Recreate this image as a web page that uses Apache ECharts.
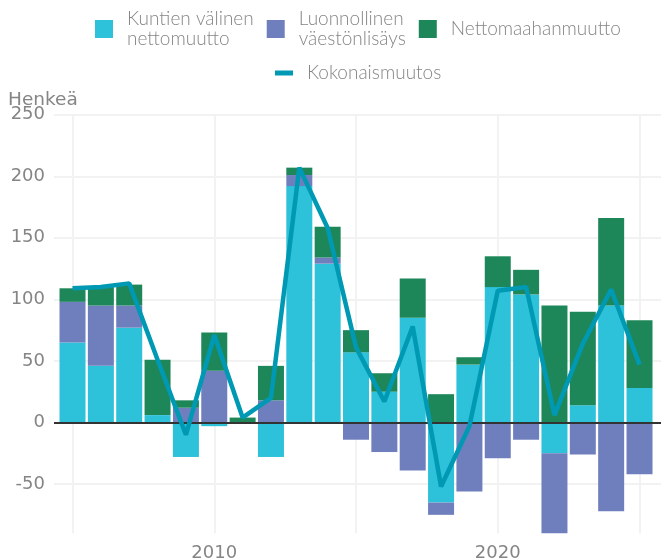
<!DOCTYPE html>
<html>
<head>
<meta charset="utf-8">
<title>Väestönmuutos</title>
<script src="https://cdn.jsdelivr.net/npm/echarts@6/dist/echarts.min.js"></script>
<style>
  html, body { margin: 0; padding: 0; background: #fff; }
  #main { width: 661px; height: 559px; }
</style>
</head>
<body>
<div id="main"></div>
<script>
//vuodet
var years = [2005, 2006, 2007, 2008, 2009, 2010, 2011, 2012, 2013, 2014, 2015,
  2016, 2017, 2018, 2019, 2020, 2021, 2022, 2023, 2024, 2025];

//pinotut pylväät
var kuntienValinen = [65, 46, 77, 6, -28, -3, 0, -28, 192, 129, 57,
  25, 85, -65, 47, 110, 104, -25, 14, 95, 28];
var luonnollinen = [33, 49, 18, 0, 12, 42, 0, 18, 9, 5, -14,
  -24, -39, -10, -56, -29, -14, -65, -26, -72, -42];
var nettomaahanmuutto = [11, 15, 17, 45, 6, 31, 4, 28, 6, 25, 18,
  15, 32, 23, 6, 25, 20, 95, 76, 71, 55];

//viiva
var kokonaismuutos = [109, 110, 113, 51, -10, 71, 4, 20, 207, 158, 61,
  17, 78, -52, -3, 107, 110, 6, 64, 108, 47];

//akselin tekstit
var xLabels = [2010, 2020];

var legendLabels = {
  'Kuntien välinen nettomuutto': 'Kuntien välinen\nnettomuutto',
  'Luonnollinen väestönlisäys': 'Luonnollinen\nväestönlisäys',
  'Nettomaahanmuutto': 'Nettomaahanmuutto',
  'Kokonaismuutos': 'Kokonaismuutos'
};

var grayText = '#858585';
var gridColor = '#f2f2f2';
var clear = 'rgba(0,0,0,0)';

//arvo + vuosi pareiksi (arvo ensin, jotta pinoaminen osuu y-arvoon)
function pairs(values) {
  return years.map(function (y, i) { return [values[i], y]; });
}

function legendText() {
  return {
    fontFamily: 'Lato',
    fontWeight: 300,
    fontSize: 19,
    lineHeight: 20,
    color: grayText,
    padding: [0, 0, 0, 9]
  };
}

function renderChart() {
  var container = document.getElementById('main');
  var myChart = echarts.init(container);
  var axisFont = { fontFamily: 'DejaVu Sans', fontSize: 18, color: grayText };

  var options = {
    backgroundColor: '#fff',
    animation: false,
    title: {
      text: 'Henkeä',
      left: 8,
      top: 91,
      padding: 0,
      textStyle: { fontFamily: 'DejaVu Sans', fontSize: 18.5, fontWeight: 'normal', color: grayText }
    },
    legend: [{
      left: 95,
      top: 9,
      padding: 0,
      itemWidth: 18,
      itemHeight: 18,
      itemGap: 13,
      selectedMode: false,
      data: [
        { name: 'Kuntien välinen nettomuutto', icon: 'rect' },
        { name: 'Luonnollinen väestönlisäys', icon: 'rect' },
        { name: 'Nettomaahanmuutto', icon: 'rect' }
      ],
      formatter: function (name) { return legendLabels[name]; },
      textStyle: legendText()
    }, {
      left: 275,
      top: 63,
      padding: 0,
      itemWidth: 18,
      itemHeight: 5,
      selectedMode: false,
      data: [{ name: 'Kokonaismuutos', icon: 'rect' }],
      formatter: function (name) { return legendLabels[name]; },
      textStyle: legendText()
    }],
    grid: {
      left: 54,
      right: 0,
      top: 114.7,
      bottom: 25.7,
      containLabel: false,
      outerBoundsMode: 'none'
    },
    xAxis: {
      type: 'value',
      min: 2004.347,
      max: 2025.758,
      axisLine: { show: false },
      axisTick: { show: false },
      axisLabel: Object.assign({
        margin: 11,
        formatter: function (v) {
          return xLabels.indexOf(Math.round(v * 1000) / 1000) >= 0 ? String(v) : '';
        }
      }, axisFont),
      splitLine: {
        show: true,
        lineStyle: { width: 2, color: [clear, gridColor, gridColor, gridColor, gridColor, gridColor, clear] }
      }
    },
    yAxis: {
      type: 'value',
      min: -90,
      max: 250,
      splitNumber: 6,
      axisLine: { show: false },
      axisTick: { show: false },
      axisLabel: Object.assign({ margin: 9, showMinLabel: false }, axisFont),
      splitLine: {
        show: true,
        lineStyle: { width: 2, color: [clear, gridColor, gridColor, gridColor, gridColor, gridColor, gridColor, gridColor] }
      }
    },
    series: [{
      name: 'Kuntien välinen nettomuutto',
      type: 'bar',
      stack: 'muutos',
      barWidth: 26,
      z: 2,
      encode: { x: 1, y: 0 },
      itemStyle: { color: '#2dc1da' },
      data: pairs(kuntienValinen)
    }, {
      name: 'Luonnollinen väestönlisäys',
      type: 'bar',
      stack: 'muutos',
      barWidth: 26,
      z: 2,
      encode: { x: 1, y: 0 },
      itemStyle: { color: '#6f7fbe' },
      data: pairs(luonnollinen)
    }, {
      name: 'Nettomaahanmuutto',
      type: 'bar',
      stack: 'muutos',
      barWidth: 26,
      z: 2,
      encode: { x: 1, y: 0 },
      itemStyle: { color: '#1d875a' },
      data: pairs(nettomaahanmuutto),
      //nollaviiva
      markLine: {
        silent: true,
        symbol: ['none', 'none'],
        label: { show: false },
        lineStyle: { color: '#333', width: 2, type: 'solid' },
        data: [{ yAxis: 0 }]
      }
    }, {
      name: 'Kokonaismuutos',
      type: 'line',
      z: 5,
      symbol: 'none',
      encode: { x: 1, y: 0 },
      itemStyle: { color: '#0099b4' },
      lineStyle: { color: '#0099b4', width: 4.5 },
      data: pairs(kokonaismuutos)
    }]
  };

  myChart.setOption(options, true);
}

renderChart();
</script>
</body>
</html>
